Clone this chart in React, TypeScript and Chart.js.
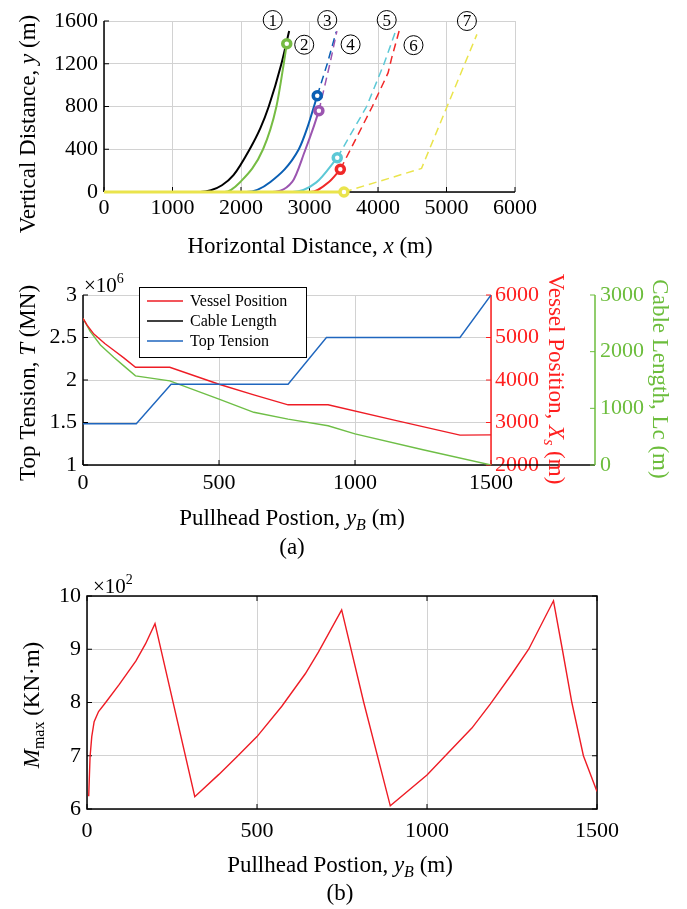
import React, { useEffect, useRef } from 'react';
import { Chart, registerables } from 'chart.js';

Chart.register(...registerables);

const SERIF = '"Liberation Serif", "Times New Roman", serif';

// ---------------- (top) cable configurations ----------------
const c1X = [0, 1405, 1560, 1722, 1890, 2127, 2283, 2405, 2590, 2703];
const c1Y = [0, 0, 16, 63, 157, 400, 597, 800, 1200, 1506];
const c2X = [0, 1760, 1990, 2322, 2517, 2624, 2668];
const c2Y = [0, 0, 94, 400, 800, 1200, 1387];
const c3X = [0, 2080, 2429, 2844, 2966, 3113];
const c3Y = [0, 0, 94, 400, 597, 901];
const c3DashX = [3113, 3259, 3390];
const c3DashY = [901, 1200, 1500];
const c4X = [0, 2400, 2747, 2942, 3054, 3137];
const c4Y = [0, 0, 94, 400, 597, 760];
const c4DashX = [3137, 3298, 3400];
const c4DashY = [760, 1200, 1506];
const c5X = [0, 2750, 3100, 3405];
const c5Y = [0, 0, 90, 320];
const c5DashX = [3405, 3834, 4088, 4249];
const c5DashY = [320, 800, 1200, 1491];
const c6X = [0, 3015, 3283, 3450];
const c6Y = [0, 0, 94, 212];
const c6DashX = [3450, 3600, 3917, 4147, 4200, 4308];
const c6DashY = [212, 400, 800, 1114, 1255, 1506];
const c7X = [0, 3503];
const c7Y = [0, 0];
const c7DashX = [3503, 4635, 5444];
const c7DashY = [0, 220, 1475];

const markerX = [2668, 3113, 3137, 3405, 3450, 3503];
const markerY = [1387, 901, 760, 320, 212, 0];

const curveLabels = ['1', '2', '3', '4', '5', '6', '7'];
const curveLabelX = [2463, 2923, 3259, 3600, 4127, 4518, 5298];
const curveLabelY = [1609, 1378, 1609, 1381, 1609, 1374, 1600];

const COL = {
  black: '#000000',
  green: '#76bc43',
  blue: '#0a5fb4',
  purple: '#9b55b0',
  cyan: '#5cc8d6',
  red: '#f02828',
  yellow: '#eae44c',
};
const markerColors = [COL.green, COL.blue, COL.purple, COL.cyan, COL.red, COL.yellow];

// ---------------- (a) tension / vessel / cable length ----------------
const tensionX = [0, 196, 324, 754, 895, 1386, 1500];
const tensionN = [1.485e6, 1.485e6, 1.95e6, 1.95e6, 2.5e6, 2.5e6, 3.0e6];
const vesselX = [0, 15, 40, 80, 113, 150, 193, 319, 500, 628, 754, 901, 1144, 1386, 1500];
const vesselPos = [5450, 5290, 5080, 4860, 4700, 4520, 4300, 4300, 3900, 3650, 3416, 3416, 3055, 2702, 2710];
const cableX = [0, 27, 64, 113, 150, 193, 319, 500, 628, 754, 901, 1000, 1250, 1500];
const cableLen = [2590, 2353, 2119, 1902, 1749, 1573, 1485, 1161, 930, 809, 692, 550, 270, 0];

// ---------------- (b) max bending moment ----------------
const momentX = [5, 9, 14, 21, 34, 56, 95, 144, 172, 200, 317, 388, 441, 500, 573, 642, 681, 749, 814, 892, 1000, 1054, 1132, 1186, 1250, 1299, 1372, 1398, 1426, 1460, 1500];
const momentM = [624, 698, 736, 764, 783, 801, 834, 878, 910, 948, 623, 665, 698, 736, 793, 854, 895, 974, 800, 606, 664, 700, 752, 797, 854, 900, 991, 900, 800, 700, 633];

const pts = (xs: number[], ys: number[]) => xs.map((x, i) => ({ x, y: ys[i] }));

type Seg = { t: string; i?: boolean; sub?: boolean; sup?: boolean };

function rich(
  ctx: CanvasRenderingContext2D,
  segs: Seg[],
  cx: number,
  cy: number,
  size: number,
  color: string,
  rot = 0,
  align: 'center' | 'left' = 'center'
) {
  ctx.save();
  ctx.translate(cx, cy);
  ctx.rotate(rot);
  ctx.fillStyle = color;
  ctx.textBaseline = 'alphabetic';
  ctx.textAlign = 'left';
  const f = (s: Seg) =>
    `${s.i ? 'italic ' : ''}${s.sub || s.sup ? Math.round(size * 0.68) : size}px ${SERIF}`;
  const ws = segs.map((s) => {
    ctx.font = f(s);
    return ctx.measureText(s.t).width;
  });
  const total = ws.reduce((a, b) => a + b, 0);
  let x = align === 'center' ? -total / 2 : 0;
  const base = size * 0.33;
  segs.forEach((s, k) => {
    ctx.font = f(s);
    const dy = s.sub ? size * 0.22 : s.sup ? -size * 0.42 : 0;
    ctx.fillText(s.t, x, base + dy);
    x += ws[k];
  });
  ctx.restore();
}

function line(ctx: CanvasRenderingContext2D, x1: number, y1: number, x2: number, y2: number) {
  ctx.beginPath();
  ctx.moveTo(x1, y1);
  ctx.lineTo(x2, y2);
  ctx.stroke();
}

const GRID = '#d2d2d2';
const TICK_FONT = { family: SERIF, size: 22 };
const TITLE = 23;
const TL = 5;
const plain = (v: any) => String(v);

const common = {
  responsive: false,
  animation: false as const,
  devicePixelRatio: 1,
  events: [] as any[],
};

function makeA(canvas: HTMLCanvasElement) {
  const solid = (xs: number[], ys: number[], color: string, w = 2) => ({
    data: pts(xs, ys),
    borderColor: color,
    borderWidth: w,
    pointRadius: 0,
    cubicInterpolationMode: 'monotone' as const,
    clip: false as any,
  });
  const dashed = (xs: number[], ys: number[], color: string) => ({
    data: pts(xs, ys),
    borderColor: color,
    borderWidth: 1.5,
    borderDash: [8, 5],
    pointRadius: 0,
    tension: 0,
    clip: false as any,
  });
  const datasets: any[] = [
    {
      data: pts(markerX, markerY),
      showLine: false,
      pointRadius: 4,
      pointBorderWidth: 3.5,
      pointBackgroundColor: '#ffffff',
      pointBorderColor: markerColors,
      clip: false,
    },
    solid(c7X, c7Y, COL.yellow, 3),
    dashed(c7DashX, c7DashY, COL.yellow),
    solid(c6X, c6Y, COL.red),
    dashed(c6DashX, c6DashY, COL.red),
    solid(c5X, c5Y, COL.cyan),
    dashed(c5DashX, c5DashY, COL.cyan),
    solid(c4X, c4Y, COL.purple),
    dashed(c4DashX, c4DashY, COL.purple),
    solid(c3X, c3Y, COL.blue),
    dashed(c3DashX, c3DashY, COL.blue),
    solid(c2X, c2Y, COL.green),
    solid(c1X, c1Y, COL.black),
  ];
  const plugin = {
    id: 'frameA',
    beforeDatasetsDraw(chart: any) {
      const { ctx, chartArea: a, scales } = chart;
      ctx.save();
      ctx.strokeStyle = '#000';
      ctx.lineWidth = 1.5;
      line(ctx, a.left, a.top, a.left, a.bottom);
      line(ctx, a.left, a.bottom, a.right, a.bottom);
      ctx.lineWidth = 1;
      scales.x.ticks.forEach((t: any) => {
        const p = scales.x.getPixelForValue(t.value);
        line(ctx, p, a.bottom, p, a.bottom - TL);
      });
      scales.y.ticks.forEach((t: any) => {
        const p = scales.y.getPixelForValue(t.value);
        line(ctx, a.left, p, a.left + TL, p);
      });
      ctx.restore();
    },
    afterDraw(chart: any) {
      const { ctx, scales } = chart;
      rich(ctx, [{ t: 'Vertical Distance, ' }, { t: 'y', i: true }, { t: ' (m)' }], 27, 124, TITLE, '#000', -Math.PI / 2);
      rich(ctx, [{ t: 'Horizontal Distance, ' }, { t: 'x', i: true }, { t: ' (m)' }], 310, 245, TITLE, '#000');
      ctx.save();
      ctx.strokeStyle = '#000';
      ctx.lineWidth = 1;
      ctx.fillStyle = '#000';
      ctx.font = `17px ${SERIF}`;
      ctx.textAlign = 'center';
      ctx.textBaseline = 'middle';
      curveLabels.forEach((s, i) => {
        const px = scales.x.getPixelForValue(curveLabelX[i]);
        const py = scales.y.getPixelForValue(curveLabelY[i]);
        ctx.beginPath();
        ctx.arc(px, py, 9.5, 0, Math.PI * 2);
        ctx.stroke();
        ctx.fillText(s, px, py + 1);
      });
      ctx.restore();
    },
  };
  return new Chart(canvas, {
    type: 'line',
    data: { datasets },
    options: {
      ...common,
      layout: { padding: { left: 0, right: 687 - 515, top: 21, bottom: 0 } },
      plugins: { legend: { display: false }, tooltip: { enabled: false } },
      scales: {
        x: {
          type: 'linear',
          min: 0,
          max: 6000,
          ticks: { stepSize: 1000, font: TICK_FONT, color: '#000', padding: 3, maxRotation: 0, autoSkip: false, callback: plain },
          grid: { color: GRID, lineWidth: 1, drawTicks: false },
          border: { display: false },
          afterFit: (s: any) => {
            s.height = 265 - 192;
          },
        },
        y: {
          type: 'linear',
          min: 0,
          max: 1600,
          ticks: { stepSize: 400, font: TICK_FONT, color: '#000', padding: 6, callback: plain },
          grid: { color: GRID, lineWidth: 1, drawTicks: false },
          border: { display: false },
          afterFit: (s: any) => {
            s.width = 104;
          },
        },
      },
    } as any,
    plugins: [plugin],
  });
}

const RED_AX = '#ff1f1f';
const GREEN_AX = '#6cbd3c';

function makeB(canvas: HTMLCanvasElement) {
  const datasets: any[] = [
    {
      data: pts(tensionX, tensionN),
      yAxisID: 'y',
      borderColor: '#1f66be',
      borderWidth: 1.4,
      pointRadius: 0,
      tension: 0,
    },
    {
      data: pts(vesselX, vesselPos),
      yAxisID: 'y2',
      borderColor: '#ee1c25',
      borderWidth: 1.4,
      pointRadius: 0,
      tension: 0,
    },
    {
      data: pts(cableX, cableLen),
      yAxisID: 'y3',
      borderColor: '#6ebe46',
      borderWidth: 1.4,
      pointRadius: 0,
      tension: 0,
    },
  ];
  const plugin = {
    id: 'frameB',
    beforeDatasetsDraw(chart: any) {
      const { ctx, chartArea: a, scales } = chart;
      const gx = scales.y3.left;
      ctx.save();
      ctx.strokeStyle = '#000';
      ctx.lineWidth = 1.5;
      line(ctx, a.left, a.top, a.left, a.bottom);
      line(ctx, a.left, a.bottom, gx, a.bottom);
      ctx.lineWidth = 1;
      scales.x.ticks.forEach((t: any) => {
        const p = scales.x.getPixelForValue(t.value);
        line(ctx, p, a.bottom, p, a.bottom - TL);
      });
      scales.y.ticks.forEach((t: any) => {
        const p = scales.y.getPixelForValue(t.value);
        line(ctx, a.left, p, a.left + TL, p);
      });
      ctx.strokeStyle = RED_AX;
      ctx.lineWidth = 1.5;
      line(ctx, a.right, a.top, a.right, a.bottom);
      ctx.lineWidth = 1;
      scales.y2.ticks.forEach((t: any) => {
        const p = scales.y2.getPixelForValue(t.value);
        line(ctx, a.right, p, a.right - TL, p);
      });
      ctx.strokeStyle = GREEN_AX;
      ctx.lineWidth = 1.5;
      line(ctx, gx, a.top, gx, a.bottom);
      ctx.lineWidth = 1;
      scales.y3.ticks.forEach((t: any) => {
        const p = scales.y3.getPixelForValue(t.value);
        line(ctx, gx, p, gx - TL, p);
      });
      ctx.restore();
    },
    afterDraw(chart: any) {
      const { ctx } = chart;
      rich(ctx, [{ t: 'Top Tension, ' }, { t: 'T', i: true }, { t: ' (MN)' }], 27, 118, TITLE, '#000', -Math.PI / 2);
      rich(ctx, [{ t: 'Vessel Position, ' }, { t: 'X', i: true }, { t: 's', i: true, sub: true }, { t: ' (m)' }], 557, 114, TITLE, RED_AX, Math.PI / 2);
      rich(ctx, [{ t: 'Cable Length, Lc (m)' }], 661, 114, TITLE, GREEN_AX, Math.PI / 2);
      rich(ctx, [{ t: 'Pullhead Postion, ' }, { t: 'y', i: true }, { t: 'B', i: true, sub: true }, { t: ' (m)' }], 292, 252, TITLE, '#000');
      rich(ctx, [{ t: '(a)' }], 292, 281, TITLE, '#000');
      rich(ctx, [{ t: '×10' }, { t: '6', sup: true }], 84, 27 - 21 * 0.33, 21, '#000', 0, 'left');
      // legend
      const bx = 139, by = 22, bw = 167, bh = 70;
      ctx.save();
      ctx.fillStyle = '#fff';
      ctx.fillRect(bx, by, bw, bh);
      ctx.strokeStyle = '#000';
      ctx.lineWidth = 1;
      ctx.strokeRect(bx + 0.5, by + 0.5, bw, bh);
      const items = [
        { label: 'Vessel Position', color: '#ee1c25' },
        { label: 'Cable Length', color: '#000000' },
        { label: 'Top Tension', color: '#1f66be' },
      ];
      ctx.font = `16px ${SERIF}`;
      ctx.textBaseline = 'middle';
      ctx.textAlign = 'left';
      items.forEach((it, k) => {
        const yy = by + 14 + k * 20;
        ctx.strokeStyle = it.color;
        ctx.lineWidth = 1.4;
        line(ctx, 147, yy, 183, yy);
        ctx.fillStyle = '#000';
        ctx.fillText(it.label, 190, yy + 1);
      });
      ctx.restore();
    },
  };
  return new Chart(canvas, {
    type: 'line',
    data: { datasets },
    options: {
      ...common,
      layout: { padding: { left: 0, right: 0, top: 30, bottom: 0 } },
      plugins: { legend: { display: false }, tooltip: { enabled: false } },
      scales: {
        x: {
          type: 'linear',
          min: 0,
          max: 1500,
          ticks: { stepSize: 500, font: TICK_FONT, color: '#000', padding: 5, maxRotation: 0, autoSkip: false, callback: plain },
          grid: { color: GRID, lineWidth: 1, drawTicks: false },
          border: { display: false },
          afterFit: (s: any) => {
            s.height = 100;
          },
        },
        y: {
          type: 'linear',
          position: 'left',
          min: 1e6,
          max: 3e6,
          ticks: {
            stepSize: 5e5,
            font: TICK_FONT,
            color: '#000',
            padding: 6,
            callback: (v: any) => String(Number(v) / 1e6),
          },
          grid: { color: GRID, lineWidth: 1, drawTicks: false },
          border: { display: false },
          afterFit: (s: any) => {
            s.width = 83;
          },
        },
        y2: {
          type: 'linear',
          position: 'right',
          min: 2000,
          max: 6000,
          ticks: { stepSize: 1000, font: TICK_FONT, color: RED_AX, padding: 4, callback: plain },
          grid: { drawOnChartArea: false, drawTicks: false },
          border: { display: false },
          afterFit: (s: any) => {
            s.width = 104;
          },
        },
        y3: {
          type: 'linear',
          position: 'right',
          min: 0,
          max: 3000,
          ticks: { stepSize: 1000, font: TICK_FONT, color: GREEN_AX, padding: 5, callback: plain },
          grid: { drawOnChartArea: false, drawTicks: false },
          border: { display: false },
          afterFit: (s: any) => {
            s.width = 92;
          },
        },
      },
    } as any,
    plugins: [plugin],
  });
}

function makeC(canvas: HTMLCanvasElement) {
  const datasets: any[] = [
    {
      data: pts(momentX, momentM),
      borderColor: '#ee1c25',
      borderWidth: 1.4,
      pointRadius: 0,
      tension: 0,
    },
  ];
  const plugin = {
    id: 'frameC',
    beforeDatasetsDraw(chart: any) {
      const { ctx, chartArea: a, scales } = chart;
      ctx.save();
      ctx.strokeStyle = '#000';
      ctx.lineWidth = 1.5;
      ctx.strokeRect(a.left, a.top, a.right - a.left, a.bottom - a.top);
      ctx.lineWidth = 1;
      scales.x.ticks.forEach((t: any) => {
        const p = scales.x.getPixelForValue(t.value);
        line(ctx, p, a.bottom, p, a.bottom - TL);
        line(ctx, p, a.top, p, a.top + TL);
      });
      scales.y.ticks.forEach((t: any) => {
        const p = scales.y.getPixelForValue(t.value);
        line(ctx, a.left, p, a.left + TL, p);
        line(ctx, a.right, p, a.right - TL, p);
      });
      ctx.restore();
    },
    afterDraw(chart: any) {
      const { ctx } = chart;
      rich(ctx, [{ t: 'M', i: true }, { t: 'max', sub: true }, { t: ' (KN·m)' }], 31, 140, TITLE, '#000', -Math.PI / 2);
      rich(ctx, [{ t: 'Pullhead Postion, ' }, { t: 'y', i: true }, { t: 'B', i: true, sub: true }, { t: ' (m)' }], 340, 299, TITLE, '#000');
      rich(ctx, [{ t: '(b)' }], 340, 327, TITLE, '#000');
      rich(ctx, [{ t: '×10' }, { t: '2', sup: true }], 93, 28 - 21 * 0.33, 21, '#000', 0, 'left');
    },
  };
  return new Chart(canvas, {
    type: 'line',
    data: { datasets },
    options: {
      ...common,
      layout: { padding: { left: 0, right: 687 - 597, top: 31, bottom: 0 } },
      plugins: { legend: { display: false }, tooltip: { enabled: false } },
      scales: {
        x: {
          type: 'linear',
          min: 0,
          max: 1500,
          ticks: { stepSize: 500, font: TICK_FONT, color: '#000', padding: 9, maxRotation: 0, autoSkip: false, callback: plain },
          grid: { color: GRID, lineWidth: 1, drawTicks: false },
          border: { display: false },
          afterFit: (s: any) => {
            s.height = 100;
          },
        },
        y: {
          type: 'linear',
          min: 600,
          max: 1000,
          ticks: {
            stepSize: 100,
            font: TICK_FONT,
            color: '#000',
            padding: 6,
            callback: (v: any) => String(Number(v) / 100),
          },
          grid: { color: GRID, lineWidth: 1, drawTicks: false },
          border: { display: false },
          afterFit: (s: any) => {
            s.width = 87;
          },
        },
      },
    } as any,
    plugins: [plugin],
  });
}

export default function App() {
  const refA = useRef<HTMLCanvasElement>(null);
  const refB = useRef<HTMLCanvasElement>(null);
  const refC = useRef<HTMLCanvasElement>(null);
  useEffect(() => {
    const charts = [makeA(refA.current!), makeB(refB.current!), makeC(refC.current!)];
    return () => charts.forEach((c) => c.destroy());
  }, []);
  return (
    <div style={{ position: 'absolute', left: 0, top: 0, width: 687, height: 909, background: '#fff' }}>
      <canvas ref={refA} width={687} height={265} style={{ position: 'absolute', left: 0, top: 0 }} />
      <canvas ref={refB} width={687} height={300} style={{ position: 'absolute', left: 0, top: 265 }} />
      <canvas ref={refC} width={687} height={344} style={{ position: 'absolute', left: 0, top: 565 }} />
    </div>
  );
}
